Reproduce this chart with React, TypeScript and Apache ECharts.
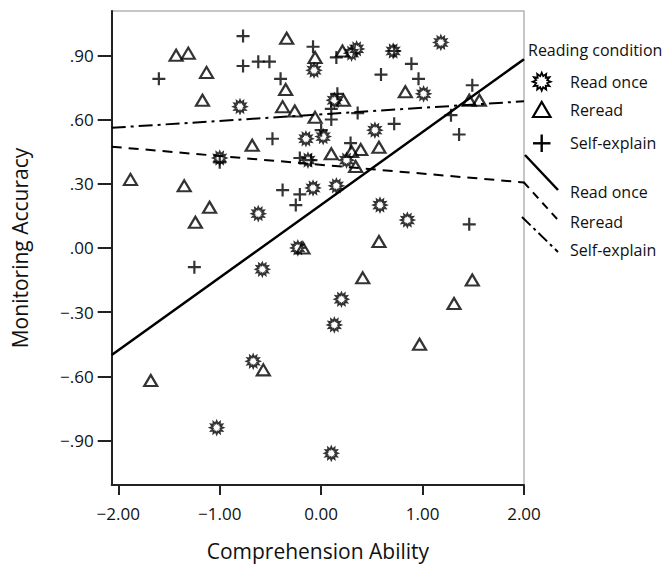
import React, { useEffect, useRef } from "react";
import * as echarts from "echarts";

// ---- data ----
const xTicks = [-2, -1, 0, 1, 2];
const yTicks = [-0.9, -0.6, -0.3, 0, 0.3, 0.6, 0.9];
const xRange = [-2.065, 2.0];
const yRange = [-1.108, 1.107];

const readOnce: number[][] = [
  [-0.8, 0.66], [-1.0, 0.42], [-0.15, 0.51], [0.02, 0.52], [-0.13, 0.41], [-0.07, 0.83],
  [0.3, 0.91], [0.35, 0.93], [0.71, 0.92], [1.18, 0.96], [1.01, 0.72], [0.53, 0.55],
  [0.13, 0.69], [0.25, 0.41], [-0.08, 0.28], [0.15, 0.29], [-0.62, 0.16], [-0.58, -0.1],
  [-0.23, 0.0], [0.58, 0.2], [0.85, 0.13], [0.2, -0.24], [0.13, -0.36], [-0.67, -0.53],
  [-1.03, -0.84], [0.1, -0.96],
];

const reread: number[][] = [
  [-1.43, 0.9], [-1.31, 0.91], [-1.13, 0.82], [-1.17, 0.69], [-0.34, 0.98], [-0.35, 0.74],
  [-0.38, 0.66], [-0.26, 0.64], [-0.06, 0.89], [0.21, 0.92], [0.22, 0.69], [-0.06, 0.61],
  [0.83, 0.73], [1.46, 0.69], [1.56, 0.69], [-0.68, 0.48], [0.1, 0.44], [0.3, 0.45],
  [0.39, 0.46], [0.57, 0.47], [0.34, 0.38], [-1.88, 0.32], [-1.35, 0.29], [-1.1, 0.19],
  [-1.24, 0.12], [-0.18, 0.0], [0.57, 0.03], [0.41, -0.14], [1.49, -0.15], [1.31, -0.26],
  [0.97, -0.45], [-0.57, -0.57], [-1.68, -0.62],
];

const selfExplain: number[][] = [
  [-1.6, 0.79], [-0.77, 0.99], [-0.77, 0.85], [-0.62, 0.87], [-0.51, 0.87], [-0.4, 0.79],
  [-0.08, 0.94], [0.15, 0.89], [0.72, 0.92], [0.59, 0.81], [0.89, 0.86], [0.96, 0.79],
  [1.49, 0.76], [0.16, 0.72], [0.1, 0.65], [0.1, 0.6], [0.36, 0.63], [0.72, 0.58],
  [1.28, 0.62], [1.36, 0.53], [-0.48, 0.51], [0.0, 0.55], [0.29, 0.49], [-1.0, 0.4],
  [-0.21, 0.42], [-0.1, 0.41], [-0.38, 0.27], [-0.21, 0.25], [-0.25, 0.2], [-1.25, -0.09],
  [1.46, 0.11],
];

const fitX = [-2.065, 2.0];
const readOnceFit = [-0.501, 0.882];
const rereadFit = [0.473, 0.306];
const selfExplainFit = [0.561, 0.685];

const groupNames = ["Read once", "Reread", "Self-explain"];

// ---- symbol shapes (style only) ----
function starPath(cx: number, cy: number, R: number, r: number, n: number) {
  let d = "";
  for (let i = 0; i < n * 2; i++) {
    const rad = i % 2 === 0 ? R : r;
    const a = (Math.PI * i) / n - Math.PI / 2;
    const px = cx + rad * Math.cos(a);
    const py = cy + rad * Math.sin(a);
    d += (i === 0 ? "M" : "L") + px.toFixed(2) + "," + py.toFixed(2);
  }
  return d + "Z";
}
const STAR = "path://" + starPath(10, 10, 10, 6.3, 12);
const PLUS = "path://M5.4,0H7.6V5.4H13V7.6H7.6V13H5.4V7.6H0V5.4H5.4Z";

const fmtX = (v: number) => (v < 0 ? "\u2212" : "") + Math.abs(v).toFixed(2);
const fmtY = (v: number) => {
  const s = Math.abs(v).toFixed(2).replace(/^0/, "");
  return (v < -1e-9 ? "\u2212" : "") + s;
};

const FONT = "Open Sans";

export default function App() {
  const ref = useRef<HTMLDivElement>(null);
  useEffect(() => {
    if (!ref.current) return;
    echarts.graphic.registerShape(
      "legendStar",
      echarts.graphic.extendPath(starPath(0, 0, 9, 5.7, 12), {})
    );
    const chart = echarts.init(ref.current, null, { renderer: "svg" });
    const line = (name: string, ys: number[], type: any, width: number) => ({
      name,
      type: "line",
      data: fitX.map((x, i) => [x, ys[i]]),
      symbol: "none",
      silent: true,
      lineStyle: { color: "#000", width, type },
      z: 1,
    });
    const legendText = (text: string, y: number) => ({
      type: "text",
      x: 570,
      y,
      style: { text, fontSize: 16, fill: "#111", fontFamily: FONT, verticalAlign: "middle" },
    });
    chart.setOption({
      animation: false,
      textStyle: { fontFamily: FONT },
      grid: {
        left: 111.7,
        right: 146,
        top: 11,
        bottom: 78.7,
        show: true,
        borderColor: "#b4b4b4",
        borderWidth: 1.5,
        backgroundColor: "#fff",
      },
      xAxis: {
        type: "value",
        min: xRange[0],
        max: xRange[1],
        name: "Comprehension Ability",
        nameLocation: "middle",
        nameGap: 55,
        nameTextStyle: { fontSize: 21, color: "#111", fontFamily: FONT },
        axisLine: { show: true, onZero: false, lineStyle: { color: "#222", width: 2 } },
        axisTick: { show: true, length: 10, customValues: xTicks, lineStyle: { color: "#222", width: 2 } },
        axisLabel: {
          customValues: xTicks,
          formatter: (v: number) => fmtX(v),
          fontSize: 17,
          color: "#111",
          margin: 20,
          fontFamily: FONT,
        },
        splitLine: { show: false },
      },
      yAxis: {
        type: "value",
        min: yRange[0],
        max: yRange[1],
        name: "Monitoring Accuracy",
        nameLocation: "middle",
        nameGap: 81,
        nameTextStyle: { fontSize: 21, color: "#111", fontFamily: FONT },
        axisLine: { show: true, onZero: false, lineStyle: { color: "#222", width: 2 } },
        axisTick: { show: true, length: 14, customValues: yTicks, lineStyle: { color: "#222", width: 2 } },
        axisLabel: {
          customValues: yTicks,
          formatter: (v: number) => fmtY(v),
          fontSize: 17,
          color: "#111",
          margin: 18,
          fontFamily: FONT,
        },
        splitLine: { show: false },
      },
      series: [
        line("Read once fit", readOnceFit, "solid", 2.5),
        line("Reread fit", rereadFit, [10, 7], 2),
        line("Self-explain fit", selfExplainFit, [14, 5, 3, 5], 2),
        {
          name: groupNames[0],
          type: "scatter",
          data: readOnce,
          symbol: STAR,
          symbolSize: 13,
          itemStyle: { color: "rgba(255,255,255,0)", borderColor: "#000", borderWidth: 1.8 },
          z: 3,
        },
        {
          name: groupNames[1],
          type: "scatter",
          data: reread,
          symbol: "triangle",
          symbolSize: [13, 11],
          itemStyle: { color: "rgba(255,255,255,0)", borderColor: "#000", borderWidth: 2.2 },
          z: 3,
        },
        {
          name: groupNames[2],
          type: "scatter",
          data: selfExplain,
          symbol: PLUS,
          symbolSize: 13,
          itemStyle: { color: "#000" },
          z: 3,
        },
      ],
      graphic: [
        {
          type: "text",
          x: 528,
          y: 50,
          style: { text: "Reading condition", fontSize: 16, fill: "#111", fontFamily: FONT, verticalAlign: "middle" },
        },
        {
          type: "legendStar",
          x: 541.7,
          y: 81.7,
          style: { fill: "rgba(255,255,255,0)", stroke: "#000", lineWidth: 1.8 },
        },
        legendText(groupNames[0], 81.7),
        {
          type: "polygon",
          shape: { points: [[533, 117], [550.5, 117], [541.7, 102]] },
          style: { fill: "rgba(255,255,255,0)", stroke: "#000", lineWidth: 2.2 },
        },
        legendText(groupNames[1], 110),
        { type: "line", shape: { x1: 533, y1: 143.3, x2: 550.5, y2: 143.3 }, style: { stroke: "#000", lineWidth: 2.4 } },
        { type: "line", shape: { x1: 541.7, y1: 134.5, x2: 541.7, y2: 152 }, style: { stroke: "#000", lineWidth: 2.4 } },
        legendText(groupNames[2], 143.3),
        { type: "line", shape: { x1: 525, y1: 155, x2: 558, y2: 190 }, style: { stroke: "#000", lineWidth: 2.5 } },
        legendText(groupNames[0], 191.7),
        { type: "line", shape: { x1: 523.5, y1: 182, x2: 558, y2: 220 }, style: { stroke: "#000", lineWidth: 2, lineDash: [8, 6] } },
        legendText(groupNames[1], 221.7),
        { type: "line", shape: { x1: 522, y1: 217, x2: 558, y2: 252 }, style: { stroke: "#000", lineWidth: 2, lineDash: [12, 4, 3, 4] } },
        legendText(groupNames[2], 250),
      ],
    });
    return () => chart.dispose();
  }, []);
  return (
    <div
      ref={ref}
      style={{ position: "fixed", left: 0, top: 0, width: 670, height: 566, background: "#fff" }}
    />
  );
}
